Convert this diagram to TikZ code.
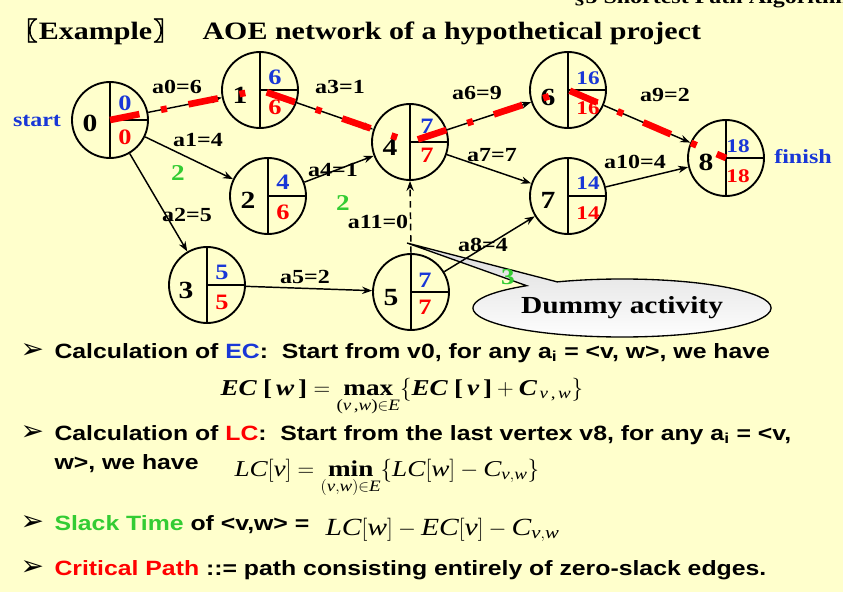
\documentclass[tikz,border=0pt]{standalone}
\usepackage{fontspec}
\usepackage{amsmath}
\usetikzlibrary{arrows.meta,shapes.geometric,shapes.callouts}
\setmainfont{Liberation Serif}[FakeStretch=1.2]
\setsansfont{Liberation Sans}[FakeStretch=1.2]
\newfontfamily\cjkfont{Noto Sans CJK SC}[FakeBold=2.5]
\newfontfamily\symbfont{DejaVu Sans}

\definecolor{ecblue}{RGB}{25,55,215}
\definecolor{lcred}{RGB}{255,0,0}
\definecolor{slackgreen}{RGB}{51,204,51}
\definecolor{slidebg}{RGB}{255,255,204}

\tikzset{every picture/.style={line width=0.75pt}}
\tikzset{
  vertex/.style={draw, circle, minimum size=57pt, inner sep=0pt, line width=1.4pt},
  vid/.style={inner sep=0.75pt, font=\bfseries\fontsize{18.5}{20}\selectfont},
  ecnum/.style={inner sep=0.75pt, text=ecblue, font=\bfseries\fontsize{16.5}{18}\selectfont},
  lcnum/.style={inner sep=0.75pt, text=lcred, font=\bfseries\fontsize{16.5}{18}\selectfont},
  twodigit/.style={font=\bfseries\fontsize{14.5}{16}\selectfont},
  actlabel/.style={inner sep=0.75pt, font=\bfseries\fontsize{15}{17}\selectfont},
  slacknum/.style={inner sep=0.75pt, text=slackgreen, font=\bfseries\fontsize{17}{19}\selectfont},
  endlabel/.style={inner sep=0.75pt, text=ecblue, font=\bfseries\fontsize{15}{17}\selectfont},
  titlefont/.style={inner sep=0pt, font=\bfseries\fontsize{18.75}{22}\selectfont},
  arr/.style={-{Stealth[length=7.5pt,width=5.5pt]}, line width=1.1pt},
  critical/.style={draw=lcred, line width=5pt, dash pattern=on 22.5pt off 16.5pt on 4.5pt off 16.5pt},
  bubble/.style={draw, ellipse callout, line width=1pt, minimum width=217.5pt, minimum height=43.5pt, top color=black!14, bottom color=white, callout pointer arc=14, font=\bfseries\fontsize{18.4}{20}\selectfont},
  bulletmark/.style={anchor=base west, inner sep=0pt, font=\symbfont\fontsize{21}{23}\selectfont},
  bullettext/.style={anchor=base west, inner sep=0pt, font=\sffamily\bfseries\fontsize{15.5}{18}\selectfont},
  formula/.style={anchor=base west, inner sep=0pt, font=\fontsize{17}{20}\selectfont}
}

\begin{document}
\begin{tikzpicture}[x=0.75pt,y=0.75pt,yscale=-1,xscale=1]
\useasboundingbox (0,0) rectangle (843,592);
\clip (0,0) rectangle (843,592);
\fill [slidebg] (0,0) rectangle (843,592);

% Text Node
\node (header) [anchor=base west, inner sep=0pt, font=\bfseries\fontsize{15}{18}\selectfont] at (573,4) {§5 Shortest Path Algorithm};
% Text Node
\node (titleleft) [anchor=base west, titlefont] at (12,40) {{\cjkfont 〖}\kern1pt Example\kern1pt{\cjkfont 〗}};
% Text Node
\node (titleright) [anchor=base west, titlefont] at (202,40) {AOE network of a hypothetical project};

% Callout
\node (dummy) [bubble, callout absolute pointer={(407,243)}] at (622,308) {Dummy activity};

% Vertices
\node (v0) [vertex] at (110,120) {};
\node (v1) [vertex] at (260,90) {};
\node (v2) [vertex] at (268,196) {};
\node (v3) [vertex] at (207,285) {};
\node (v4) [vertex] at (410,142) {};
\node (v5) [vertex] at (411,292) {};
\node (v6) [vertex] at (568,90) {};
\node (v7) [vertex] at (568,196) {};
\node (v8) [vertex] at (726,158) {};

%Straight Lines
\draw [line width=1.4pt] (v0.north) -- (v0.south) (v0.center) -- (v0.east);
\draw [line width=1.4pt] (v1.north) -- (v1.south) (v1.center) -- (v1.east);
\draw [line width=1.4pt] (v2.north) -- (v2.south) (v2.center) -- (v2.east);
\draw [line width=1.4pt] (v3.north) -- (v3.south) (v3.center) -- (v3.east);
\draw [line width=1.4pt] (v4.north) -- (v4.south) (v4.center) -- (v4.east);
\draw [line width=1.4pt] (v5.north) -- (v5.south) (v5.center) -- (v5.east);
\draw [line width=1.4pt] (v6.north) -- (v6.south) (v6.center) -- (v6.east);
\draw [line width=1.4pt] (v7.north) -- (v7.south) (v7.center) -- (v7.east);
\draw [line width=1.4pt] (v8.north) -- (v8.south) (v8.center) -- (v8.east);

%Activities
\draw [arr] (v0) -- (v1);
\draw [arr] (v0) -- (v2);
\draw [arr] (v0) -- (v3);
\draw [arr] (v1) -- (v4);
\draw [arr] (v2) -- (v4);
\draw [arr] (v3) -- (v5);
\draw [arr] (v4) -- (v6);
\draw [arr] (v4) -- (v7);
\draw [arr] (v5) -- (v7);
\draw [arr] (v6) -- (v8);
\draw [arr] (v7) -- (v8);
\draw [arr, dash pattern=on 5pt off 3.5pt] (v5.north) -- (v4.south);

% Text Node
\node (v0id) [vid] at (90,123) {0};
\node (v0ec) [ecnum] at (125,103) {0};
\node (v0lc) [lcnum] at (125,137) {0};
\node (v1id) [vid] at (240,95) {1};
\node (v1ec) [ecnum] at (275,77) {6};
\node (v1lc) [lcnum] at (275,107) {6};
\node (v2id) [vid] at (248,200) {2};
\node (v2ec) [ecnum] at (283,182) {4};
\node (v2lc) [lcnum] at (283,212) {6};
\node (v3id) [vid] at (186,290) {3};
\node (v3ec) [ecnum] at (222,272) {5};
\node (v3lc) [lcnum] at (222,302) {5};
\node (v4id) [vid] at (390,147) {4};
\node (v4ec) [ecnum] at (427,126) {7};
\node (v4lc) [lcnum] at (427,155) {7};
\node (v5id) [vid] at (391,298) {5};
\node (v5ec) [ecnum] at (425,280) {7};
\node (v5lc) [lcnum] at (425,307) {7};
\node (v6id) [vid] at (548,97) {6};
\node (v6ec) [ecnum, twodigit] at (588,78) {16};
\node (v6lc) [lcnum, twodigit] at (588,108) {16};
\node (v7id) [vid] at (548,200) {7};
\node (v7ec) [ecnum, twodigit] at (588,183) {14};
\node (v7lc) [lcnum, twodigit] at (588,213) {14};
\node (v8id) [vid] at (706,162) {8};
\node (v8ec) [ecnum, twodigit] at (738,146) {18};
\node (v8lc) [lcnum, twodigit] at (738,176) {18};

% Text Node
\node (start) [endlabel] at (37,121) {start};
\node (finish) [endlabel] at (803,157) {finish};

% Text Node
\node (a0) [actlabel] at (177,87) {a0=6};
\node (a1) [actlabel] at (198,140) {a1=4};
\node (a2) [actlabel] at (187,215) {a2=5};
\node (a3) [actlabel] at (340,87) {a3=1};
\node (a4) [actlabel] at (333,170) {a4=1};
\node (a5) [actlabel] at (305,277) {a5=2};
\node (a6) [actlabel] at (477,93) {a6=9};
\node (a7) [actlabel] at (492,155) {a7=7};
\node (a8) [actlabel] at (483,245) {a8=4};
\node (a9) [actlabel] at (665,95) {a9=2};
\node (a10) [actlabel] at (635,162) {a10=4};
\node (a11) [actlabel] at (378,222) {a11=0};

% Text Node
\node (s02) [slacknum] at (178,173) {2};
\node (s24) [slacknum] at (343,203) {2};
\node (s57) [slacknum] at (508,277) {3};

% Critical path
\draw [critical] (v0.center) -- (v1.center) -- (v4.center) -- (v6.center) -- (v8.center);

% Text Node
\node (b1) [bulletmark] at (20,358) {➢};
\node (line1) [bullettext] at (54,358) {Calculation of {\color{ecblue}EC}:\ \ Start from v0, for any a\textsubscript{i} = <v, w>, we have};
\node (eq1) [formula, font=\bfseries\fontsize{17}{20}\selectfont] at (220,395) {$\textit{EC}\;\text{[}\,\textit{w}\,\text{]} = \mathop{\textbf{max}}\limits_{\textmd{(\textit{v}\,,\textit{w})}\in \textmd{\textit{E}}}\{\textit{EC}\;\text{[}\,\textit{v}\,\text{]} + \textit{C}_{\,\textmd{\textit{v}\,,\,\textit{w}}}\}$};
\node (b2) [bulletmark] at (20,440) {➢};
\node (line2) [bullettext] at (54,440) {Calculation of {\color{lcred}LC}:\ \ Start from the last vertex v8, for any a\textsubscript{i} = <v,};
\node (line2b) [bullettext] at (54,469) {w>, we have};
\node (eq2) [formula] at (234,476) {$\textit{LC}[\textit{v}] = \mathop{\textbf{min}}\limits_{(\textit{v},\textit{w})\in \textit{E}}\{\textit{LC}[\textit{w}] - \textit{C}_{\textit{v},\textit{w}}\}$};
\node (b3) [bulletmark] at (20,530) {➢};
\node (line3) [bullettext] at (54,530) {{\color{slackgreen}Slack Time} of <v,w> =};
\node (eq3) [formula, font=\fontsize{18.5}{21}\selectfont] at (325,535) {$\textit{LC}[\textit{w}] - \textit{EC}[\textit{v}] - \textit{C}_{\textit{v},\textit{w}}$};
\node (b4) [bulletmark] at (20,575) {➢};
\node (line4) [bullettext] at (54,575) {{\color{lcred}Critical Path} ::= path consisting entirely of zero-slack edges.};

\end{tikzpicture}
\end{document}
